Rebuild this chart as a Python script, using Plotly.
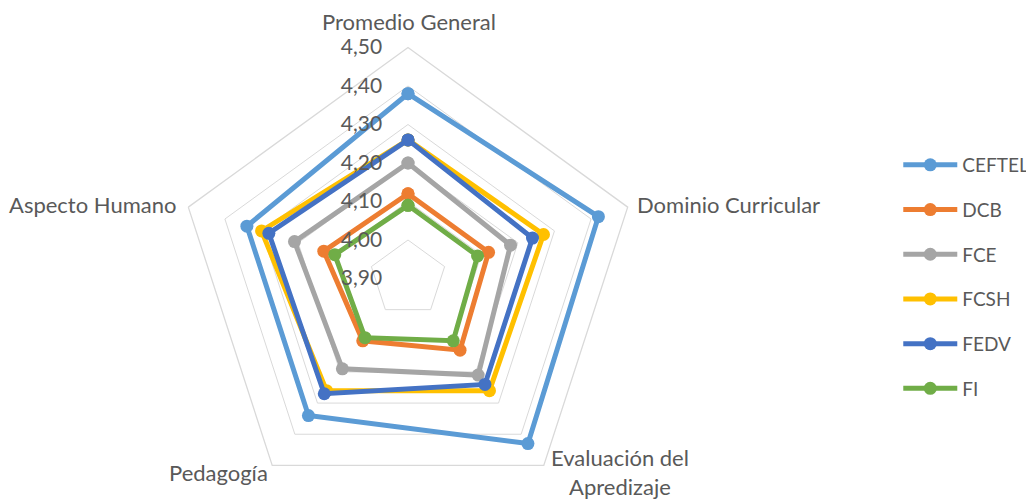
import plotly.graph_objects as go

# categories (axes of the radar)
categories = ["Promedio General", "Dominio Curricular", "Evaluación del<br>Apredizaje",
              "Pedagogía", "Aspecto Humano"]

# series values
ceftel = [4.38, 4.42, 4.43, 4.34, 4.34]
dcb = [4.12, 4.12, 4.13, 4.10, 4.13]
fce = [4.20, 4.18, 4.21, 4.19, 4.21]
fcsh = [4.26, 4.27, 4.26, 4.26, 4.30]
fedv = [4.26, 4.24, 4.24, 4.27, 4.28]
fi = [4.09, 4.09, 4.10, 4.09, 4.10]

series_names = ["CEFTEL", "DCB", "FCE", "FCSH", "FEDV", "FI"]
series_values = [ceftel, dcb, fce, fcsh, fedv, fi]
colors = ["#5B9BD5", "#ED7D31", "#A5A5A5", "#FFC000", "#4472C4", "#70AD47"]

radial_ticks = [3.90, 4.00, 4.10, 4.20, 4.30, 4.40, 4.50]

FONT = "Lato"
TXT = "#595959"
GRID = "#D9D9D9"
# the page has an 8px body margin, so the figure is a bit taller than the window
W, H = 1034, 520

# polar centre and radius in figure px
CX, CY, R = 400, 270.5, 231

# where each category label sits (px from top-left) and how it is anchored
label_pos = [(401, 13, "center"), (627, 196, "left"), (612, 464, "center"),
             (262, 464, "right"), (170, 196, "right")]

fig = go.Figure()
for name, vals, col in zip(series_names, series_values, colors):
    # close the polygon by repeating the first point
    fig.add_trace(go.Scatterpolar(
        r=vals + vals[:1],
        theta=categories + categories[:1],
        mode="lines+markers",
        name=name,
        legendgroup=name,
        line=dict(color=col, width=5),
        marker=dict(color=col, size=13),
    ))

for text, (px, py, anchor) in zip(categories, label_pos):
    fig.add_annotation(
        text=text, xref="paper", yref="paper",
        x=px / W, y=1 - py / H, xanchor=anchor, yanchor="middle",
        align="center", showarrow=False,
        font=dict(family=FONT, size=22, color=TXT),
    )

fig.update_layout(
    width=W, height=H,
    margin=dict(l=0, r=0, t=0, b=0),
    paper_bgcolor="white",
    separators=",.",
    font=dict(family=FONT, size=20, color=TXT),
    polar=dict(
        domain=dict(x=[(CX - 240) / W, (CX + 240) / W],
                    y=[1 - (CY + R) / H, 1 - (CY - R) / H]),
        bgcolor="white",
        gridshape="linear",
        radialaxis=dict(
            range=[3.9, 4.5],
            tickvals=radial_ticks,
            tickformat=".2f",
            angle=90,
            side="counterclockwise",
            tickangle=90,
            showline=False,
            ticks="outside",
            ticklen=18,
            tickcolor="rgba(0,0,0,0)",
            gridcolor=GRID,
            gridwidth=1.3,
            tickfont=dict(family=FONT, size=21, color=TXT),
        ),
        angularaxis=dict(
            direction="clockwise",
            rotation=90,
            showgrid=False,
            showline=True,
            linecolor=GRID,
            linewidth=1.3,
            ticks="",
            showticklabels=False,
        ),
    ),
    legend=dict(
        x=0.861, xanchor="left",
        y=1 - 269 / H, yanchor="middle",
        font=dict(family=FONT, size=19, color=TXT),
        tracegroupgap=17,
        itemwidth=54,
    ),
)

fig.write_html("out.html")
